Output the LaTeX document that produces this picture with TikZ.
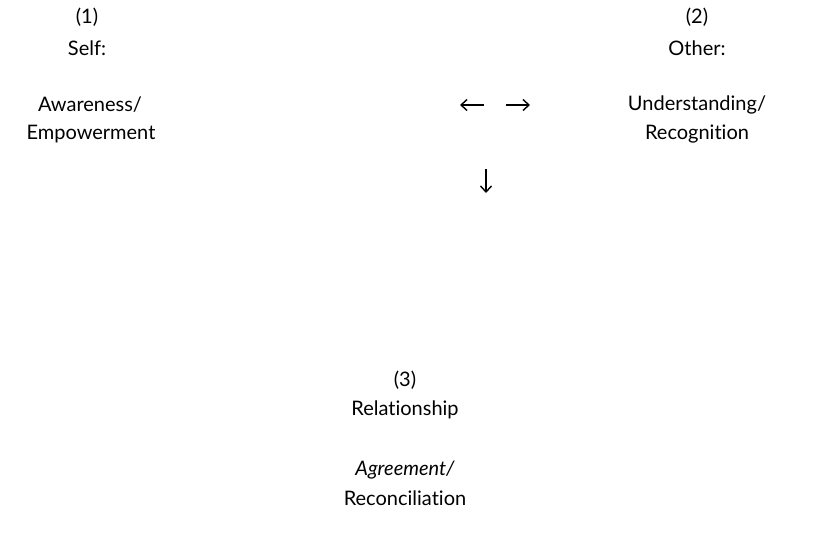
\documentclass[tikz,border=0pt]{standalone}
\usepackage{fontspec}
\setmainfont[Ligatures=NoCommon]{Lato}
\usetikzlibrary{arrows.meta}
\begin{document}
\begin{tikzpicture}[x=1pt,y=-1pt,
  lbl/.style={font=\fontsize{20}{24}\selectfont, inner sep=0pt, align=center},
  arr/.style={line width=1.4pt, -{Straight Barb[length=6pt,width=11pt]}}]
\useasboundingbox (0,0) rectangle (817,536);
% left
\node[lbl] (n1) at (87,17) {(1)};
\node[lbl] (self) at (87,48) {Self:};
\node[lbl] (aw) at (90,105) {Awareness/};
\node[lbl] (emp) at (91,134) {Empowerment};
% right
\node[lbl] (n2) at (697,17) {(2)};
\node[lbl] (other) at (697,48) {Other:};
\node[lbl] (und) at (697,105) {Understanding/};
\node[lbl] (rec) at (697,134) {Recognition};
% bottom
\node[lbl] (n3) at (405,380) {(3)};
\node[lbl] (rel) at (405,410) {Relationship};
\node[lbl] (agr) at (405,470) {\itshape Agreement/};
\node[lbl] (recon) at (405,498) {Reconciliation};
% arrows
\coordinate (la) at (484,105);
\coordinate (lb) at (460,105);
\coordinate (ra) at (506,105);
\coordinate (rb) at (530,105);
\coordinate (da) at (486,169);
\coordinate (db) at (486,193);
\draw[arr] (la) -- (lb);
\draw[arr] (ra) -- (rb);
\draw[arr] (da) -- (db);
\end{tikzpicture}
\end{document}
